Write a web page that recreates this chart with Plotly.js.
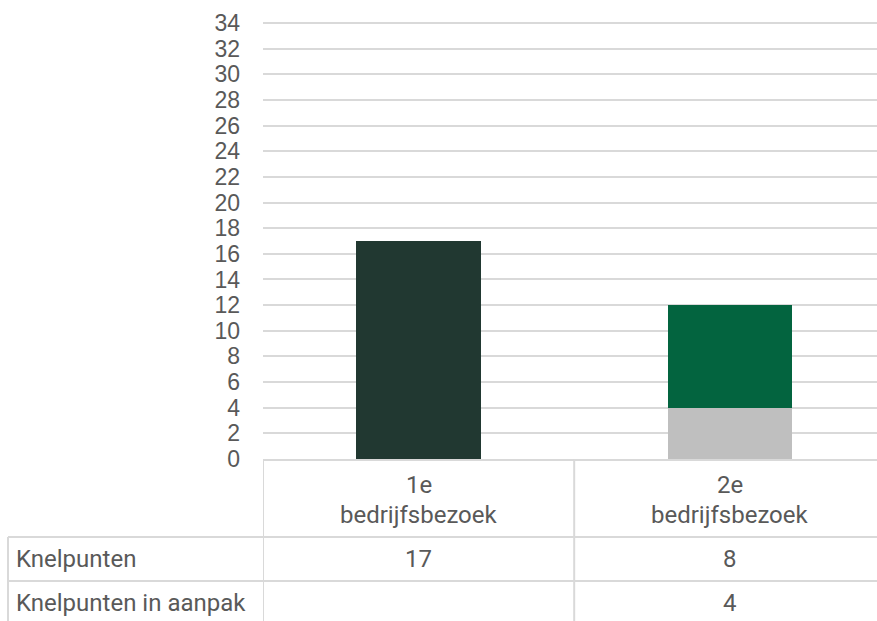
<!DOCTYPE html>
<html>
<head>
<meta charset="utf-8">
<script src="https://cdn.plot.ly/plotly-3.0.1.min.js"></script>
<style>
  html, body { margin: 0; padding: 0; background: #ffffff; }
  #chart { width: 877px; height: 621px; }
</style>
</head>
<body>
<div id="chart"></div>
<script>
// Bedrijfsbezoeken: knelpunten per bezoek, met een datatabel onder de grafiek
const categories = ["1e bedrijfsbezoek", "2e bedrijfsbezoek"];
const categoryLines = [["1e", "bedrijfsbezoek"], ["2e", "bedrijfsbezoek"]];
const seriesNames = ["Knelpunten", "Knelpunten in aanpak"];
const knelpunten = [17, 8];
const knelpuntenInAanpak = [null, 4];
const yTickValues = [0, 2, 4, 6, 8, 10, 12, 14, 16, 18, 20, 22, 24, 26, 28, 30, 32, 34];

// layout geometry (pixels)
const W = 877, H = 621;
const M = { l: 263, r: 0, t: 22, b: 162 };
const plotH = H - M.t - M.b;
const plotW = W - M.l - M.r;
const rowLines = [537, 581];       // horizontal table rules
const tableLeft = 8;               // left edge of the row-header column
const headerLineY = [485, 515];    // the two header text lines
const rowTextY = [559, 603];

const gridCol = "#d9d9d9";
const textCol = "#595959";
const tableFont = "Roboto, 'Noto Sans', sans-serif";

const py = (px) => (M.t + plotH - px) / plotH;   // pixel row -> paper y
const px2 = (px) => (px - M.l) / plotW;          // pixel col -> paper x

const xIdx = categories.map((_, i) => i);

const traces = [
  {
    type: "bar",
    name: seriesNames[1],
    x: xIdx,
    y: knelpuntenInAanpak,
    width: 0.4,
    marker: { color: "#bfbfbf" },
    hoverinfo: "skip"
  },
  {
    type: "bar",
    name: seriesNames[0],
    x: xIdx,
    y: knelpunten,
    width: 0.4,
    marker: { color: ["#213831", "#03643f"] },
    hoverinfo: "skip"
  }
];

const shapes = [];
// vertical rules between columns
[-0.5, 0.5].forEach((xv) => {
  shapes.push({
    type: "line", xref: "x", yref: "paper",
    x0: xv, x1: xv, y0: 0, y1: py(H + 5),
    line: { color: gridCol, width: 2 }
  });
});
// row-header column left edge
shapes.push({
  type: "line", xref: "paper", yref: "paper",
  x0: px2(tableLeft), x1: px2(tableLeft), y0: py(rowLines[0]), y1: py(H + 5),
  line: { color: gridCol, width: 2 }
});
// horizontal rules
rowLines.forEach((ry) => {
  shapes.push({
    type: "line", xref: "paper", yref: "paper",
    x0: px2(tableLeft), x1: 1.05, y0: py(ry), y1: py(ry),
    line: { color: gridCol, width: 2 }
  });
});

const annotations = [];
const cellFont = { family: tableFont, size: 24, color: textCol };
categoryLines.forEach((lines, i) => {
  lines.forEach((t, k) => {
    annotations.push({
      xref: "x", yref: "paper", x: i, y: py(headerLineY[k]),
      text: t, showarrow: false, xanchor: "center", yanchor: "middle",
      font: cellFont
    });
  });
});
const rows = [knelpunten, knelpuntenInAanpak];
rows.forEach((vals, r) => {
  annotations.push({
    xref: "paper", yref: "paper", x: px2(tableLeft + 6), y: py(rowTextY[r]),
    text: seriesNames[r], showarrow: false, xanchor: "left", yanchor: "middle",
    font: cellFont
  });
  vals.forEach((v, i) => {
    if (v === null) return;
    annotations.push({
      xref: "x", yref: "paper", x: i, y: py(rowTextY[r]),
      text: String(v), showarrow: false, xanchor: "center", yanchor: "middle",
      font: cellFont
    });
  });
});

const layout = {
  width: W, height: H,
  margin: M,
  paper_bgcolor: "#ffffff",
  plot_bgcolor: "#ffffff",
  barmode: "stack",
  showlegend: false,
  xaxis: {
    range: [-0.5, 1.473],
    showticklabels: false,
    showgrid: false,
    zeroline: false,
    showline: true,
    linecolor: gridCol,
    linewidth: 2,
    ticks: "",
    fixedrange: true
  },
  yaxis: {
    range: [0, 34.08],
    tickvals: yTickValues,
    ticktext: yTickValues.map(String),
    showgrid: true,
    gridcolor: gridCol,
    gridwidth: 2,
    zeroline: false,
    showline: false,
    ticks: "",
    ticklabelstandoff: 22,
    tickfont: { family: "'Liberation Sans', Arial, sans-serif", size: 23, color: textCol },
    fixedrange: true
  },
  shapes: shapes,
  annotations: annotations
};

Plotly.newPlot("chart", traces, layout, { displayModeBar: false, staticPlot: true });
</script>
</body>
</html>
